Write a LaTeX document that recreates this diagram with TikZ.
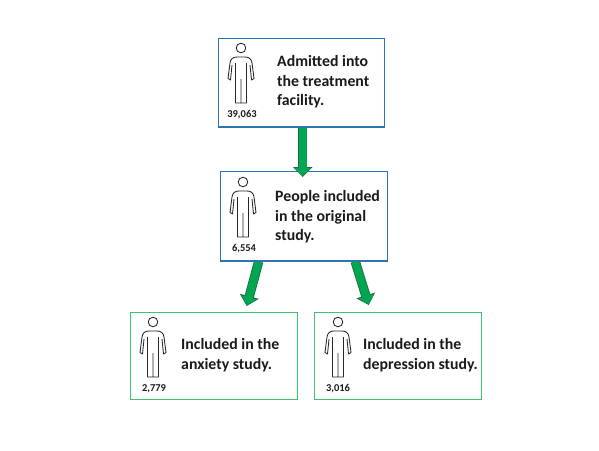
\documentclass[tikz,border=0pt]{standalone}
\usepackage{fontspec}
\setmainfont{Carlito}
\usetikzlibrary{arrows.meta,calc}
\definecolor{bluebox}{HTML}{2E75B6}
\definecolor{greenbox}{HTML}{3CC46E}
\definecolor{arrowfill}{HTML}{00A651}
\definecolor{arrowedge}{HTML}{1F6B45}
\definecolor{inktext}{HTML}{1A1A1A}
\tikzset{
  card/.style={draw=#1,line width=1.4pt,fill=white,minimum width=166pt,minimum height=87pt,inner sep=0pt,anchor=north west},
  caption/.style={align=left,anchor=west,inner sep=0pt,text=inktext,font=\fontsize{15.8}{19.5}\selectfont\bfseries},
  count/.style={inner sep=0pt,text=inktext,font=\fontsize{10.5}{12}\selectfont\bfseries},
  flowedge/.style={line width=9.4pt,arrowedge,-{Triangle[width=19pt,length=10pt]}},
  flowfill/.style={line width=7.8pt,arrowfill,shorten >=.7pt,-{Triangle[width=15.5pt,length=8.2pt]}},
  person/.pic={
    \draw[line width=.85pt,draw=black!85,line join=round]
      (0,0) circle (4.8)
      (-5.5,15) -- (-5.5,55) -- (5.5,55) -- (5.5,15)
      (0,31) -- (0,55)
      (-4,9) -- (4,9)
      (-4,9) .. controls (-8,9) and (-10.5,11) .. (-11,15) -- (-13,30.5) -- (-10.5,32) -- (-9,17)
      (4,9) .. controls (8,9) and (10.5,11) .. (11,15) -- (13,30.5) -- (10.5,32) -- (9,17);
  }
}
\begin{document}
\begin{tikzpicture}[x=1pt,y=-1pt]
\useasboundingbox[fill=white] (0,0) rectangle (599,450);

\node[card=bluebox,minimum height=88pt] (admitted) at (218,38) {};
\node[card=bluebox,minimum width=167pt,minimum height=89pt] (original) at (220,171) {};
\node[card=greenbox,minimum width=167pt] (anxiety) at (130,312) {};
\node[card=greenbox,minimum width=167pt] (depression) at (314,312) {};

\coordinate (a1) at ($(admitted.south)+(1,0)$);
\coordinate (a2) at ($(original.north)+(-1.5,6)$);
\coordinate (b1) at ($(original.south)+(-45.5,0)$);
\coordinate (b2) at ($(anxiety.north)+(32.5,-6)$);
\coordinate (c1) at ($(original.south)+(51,0)$);
\coordinate (c2) at ($(depression.north)+(-29.5,-7)$);

\foreach \s/\e in {a1/a2,b1/b2,c1/c2}{
  \draw[flowedge] (\s) -- (\e);
  \draw[flowfill] (\s) -- (\e);
}
\draw[bluebox,line width=1.4pt] (original.south west) -- (original.south east);
\draw[bluebox,line width=1.4pt] (admitted.south west) -- (admitted.south east);

\pic at (241,48) {person};
\pic at (243,182) {person};
\pic at (153,322) {person};
\pic at (338,322) {person};

\node[count] (n1) at (242,115) {39,063};
\node[count] (n2) at (244,249) {6,554};
\node[count] (n3) at (154,389) {2,779};
\node[count] (n4) at (338,389) {3,016};

\node[caption] (t1) at (277,82) {Admitted into\\the treatment\\facility.};
\node[caption] (t2) at (275,217) {People included\\in the original\\study.};
\node[caption] (t3) at (181,355) {Included in the\\anxiety study.};
\node[caption] (t4) at (363,355) {Included in the\\depression study.};
\end{tikzpicture}
\end{document}
